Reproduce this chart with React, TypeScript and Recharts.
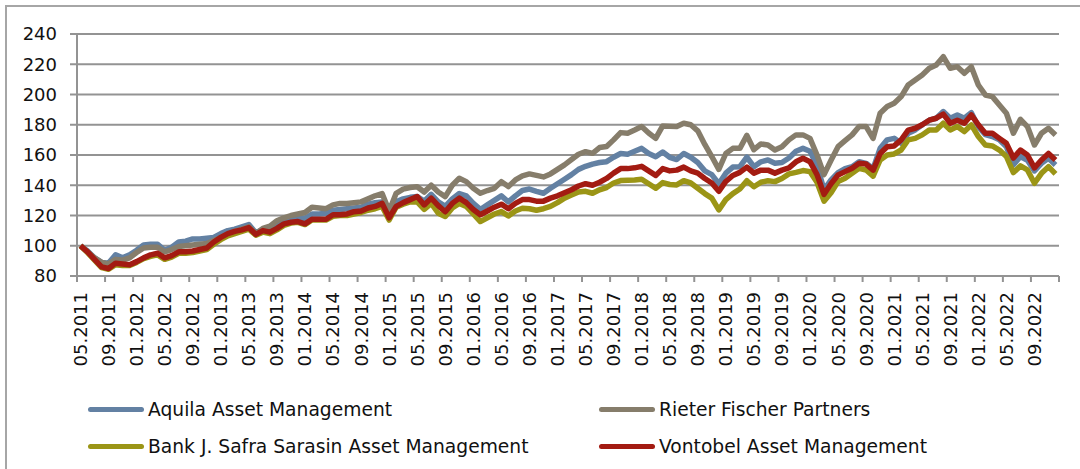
import React from 'react';
import { LineChart, Line, XAxis, YAxis, CartesianGrid } from 'recharts';

// monthly index values, 05.2011 .. 12.2022 (140 months)
const aquila = [
  100, 96.5, 92, 89, 88.5, 94, 92, 94, 97, 100.5,
  101, 101, 97, 99, 102.5, 103, 104.5, 104.5, 105, 105.5,
  108, 110, 111, 112.5, 114, 108.5, 111, 111, 113.5, 116,
  117.5, 118.5, 118, 121, 121, 121.5, 123.5, 124, 124.5, 125,
  125.5, 127.5, 128.5, 129, 119.5, 129, 131, 132, 132.5, 129.5,
  134, 129, 126, 131, 134.5, 133, 128, 124, 127, 130,
  133, 129, 133, 136.5, 137.5, 136, 134.7, 138, 141, 144,
  147, 150.5, 152.5, 154, 155, 155.6, 158.5, 161, 160.5, 162.5,
  164.4, 161, 158.9, 162, 158.5, 157, 161, 158.5, 155, 149.5,
  147, 141, 148, 152, 152.3, 158.5, 152.3, 155.5, 156.7, 154.5,
  155, 158, 162.5, 164.4, 162.5, 153, 137, 143.5, 148.4, 151,
  152.3, 155.6, 154.5, 151, 164.4, 170, 171, 167.7, 174.4, 176.6,
  180, 183, 184.3, 188.7, 184.3, 186.5, 184.3, 188, 178.8, 173.5,
  172.2, 170, 165.5, 153.5, 159, 156.5, 149.5, 154.5, 157.8, 153.4,
];

const rieter = [
  100, 96, 92, 89, 88, 91, 90.5, 92, 95.5, 98.5,
  99, 99, 96, 97.5, 99.5, 100, 100.5, 101, 101.5, 103.5,
  105.5, 107.5, 109.5, 111, 112.5, 108, 111.5, 113, 116.5, 118.5,
  120, 121, 122, 125.5, 125, 124.5, 127, 128, 128, 128.5,
  129, 131, 133, 134.5, 123, 134.7, 137.4, 138.5, 139, 135.5,
  140, 135.5, 132.5, 140, 144.6, 142.4, 138, 134.7, 136.5, 138,
  142.4, 139.1, 143.5, 146.2, 147.5, 146.5, 145.5, 147.5, 150.5, 153.5,
  157, 160.5, 162.2, 161.1, 164.9, 165.6, 170, 174.8, 174.4, 176.5,
  178.8, 174.5, 171, 179.2, 179, 178.8, 181, 180, 176, 167,
  159, 150.5, 161, 164.4, 164.4, 173, 163.5, 167.3, 166.6, 163.3,
  165.5, 170, 173.3, 173.3, 171, 160, 147, 156.5, 165.5, 169.5,
  173.3, 178.8, 178.8, 171, 187.6, 192, 194.2, 198.6, 206.3, 209.6,
  212.9, 217.3, 219.5, 225, 217.3, 218.4, 214, 218.4, 206.3, 199.7,
  198.6, 193.1, 187.6, 174.4, 183.6, 178.8, 166.6, 174.4, 177.7, 173.3,
];

const safra = [
  100, 95.5, 90.5, 85.5, 84.5, 87.5, 87, 87, 89, 91.5,
  93, 94, 91, 92.5, 95, 95, 95.5, 96.5, 97.5, 101,
  104, 106.5, 108, 109.5, 111, 107, 109, 108, 110.5, 113.5,
  115, 115.5, 114, 117, 117, 117, 119.5, 120, 120, 121,
  122, 123.5, 124.5, 126, 117, 125.5, 127.5, 129, 129, 124,
  128, 121.5, 119.3, 125, 128, 126, 121, 116, 118.5, 121,
  122.6, 119.7, 123, 124.8, 124.5, 123.5, 124.5, 126, 128.5, 131.5,
  133.5, 135.5, 136, 134.7, 137, 138.5, 141.5, 143.1, 143.3, 143.5,
  144, 141, 138, 141.8, 140.5, 140.2, 143, 141.5, 138, 134.5,
  131.5, 123.7, 130.5, 134.5, 137.5, 143, 139, 142, 143, 142.4,
  144.5, 147.5, 148.5, 149.7, 149, 142, 129.5, 135, 142.4, 144.6,
  147.9, 151.2, 150.1, 146, 156.7, 160, 160.7, 163.3, 170, 171,
  173.3, 176.6, 176.6, 181, 176.6, 178.8, 175.5, 179.9, 172.2, 166.6,
  166, 163.3, 159, 148.4, 152.8, 150.1, 141.3, 147.9, 152.3, 147.5,
];

const vontobel = [
  100, 96, 91, 86, 85, 88.5, 88, 87.5, 89.5, 92,
  94, 95, 92, 93.5, 96, 96, 96.5, 97.5, 98.5, 102.5,
  105.5, 108, 109.5, 110.5, 112, 107.5, 110, 109, 111.5, 114.5,
  115.5, 116, 114.5, 117.5, 117.5, 117.5, 120.5, 120.5, 121, 122.5,
  123, 125, 126, 128, 118.5, 126, 128.5, 130.5, 132.5, 127,
  131.5, 126.5, 122.5, 128, 131.5, 128.5, 124, 120.5, 123, 125.5,
  127.5, 124.5, 128, 130.5, 130.5, 129.5, 129.5, 131.5, 133, 135,
  137, 139.5, 141, 140, 142, 144.5, 148, 151, 151, 151.5,
  152.5, 149.5, 146.5, 151, 149.5, 150, 152, 149.5, 148, 144.5,
  141.5, 136, 142.5, 146.5, 148.5, 152, 148, 150, 150, 148,
  150, 151.5, 155.5, 157.8, 155.6, 147, 134, 141, 146.8, 149,
  151.2, 154.5, 154, 150, 161, 165.5, 166, 170, 176.5, 177.7,
  180, 183, 184.3, 187, 181, 183, 181, 186.5, 180, 174.4,
  174.4, 171, 167.7, 158, 163.3, 160, 151.5, 156.7, 161, 156.7,
];

const tickLabels = [
  '05.2011', '09.2011', '01.2012', '05.2012', '09.2012', '01.2013', '05.2013',
  '09.2013', '01.2014', '05.2014', '09.2014', '01.2015', '05.2015', '09.2015',
  '01.2016', '05.2016', '09.2016', '01.2017', '05.2017', '09.2017', '01.2018',
  '05.2018', '09.2018', '01.2019', '05.2019', '09.2019', '01.2020', '05.2020',
  '09.2020', '01.2021', '05.2021', '09.2021', '01.2022', '05.2022', '09.2022',
];

const yTicks = [80, 100, 120, 140, 160, 180, 200, 220, 240];

const series = [
  { key: 'aquila', name: 'Aquila Asset Management', color: '#6381a3' },
  { key: 'rieter', name: 'Rieter Fischer Partners', color: '#867d6b' },
  { key: 'safra', name: 'Bank J. Safra Sarasin Asset Management', color: '#9b9516' },
  { key: 'vontobel', name: 'Vontobel Asset Management', color: '#a31b12' },
];

const N = aquila.length;
const data = aquila.map((v, i) => ({
  i,
  aquila: v,
  rieter: rieter[i],
  safra: safra[i],
  vontobel: vontobel[i],
}));

// tick marks sit between months, one every 4 months
const boundaryTicks = Array.from({ length: tickLabels.length + 1 }, (_, k) => k * 4 - 0.5);

const CHART_W = 1080;
const Y_W = 77;
const RIGHT = 21;
const HALF_CAT = (CHART_W - Y_W - RIGHT) / N / 2;
const FONT = '"DejaVu Sans", Verdana, sans-serif';
const GRID = '#939393';

function MonthTick(props: any) {
  const { x, y, payload } = props;
  const k = Math.round((payload.value + 0.5) / 4);
  const label = tickLabels[k];
  if (!label) return <g />;
  const cx = x + HALF_CAT;
  return (
    <text
      x={cx}
      y={y + 8}
      dy="0.36em"
      transform={`rotate(-90 ${cx} ${y + 8})`}
      textAnchor="end"
      fontSize={18}
      fontFamily={FONT}
      fill="#111"
    >
      {label}
    </text>
  );
}

const legendRows = [
  [series[0], series[1]],
  [series[2], series[3]],
];

export default function App() {
  return (
    <div
      style={{
        position: 'absolute',
        left: 0,
        top: 0,
        width: 1080,
        height: 469,
        overflow: 'hidden',
        background: '#fff',
        fontFamily: FONT,
      }}
    >
      <div
        style={{
          position: 'absolute',
          left: 5,
          top: 5,
          width: 1200,
          height: 700,
          border: '2px solid #a6a6a6',
        }}
      />
      <div style={{ position: 'absolute', left: 0, top: 0 }}>
        <LineChart
          width={CHART_W}
          height={400}
          data={data}
          margin={{ top: 34, right: RIGHT, bottom: 0, left: 0 }}
        >
          <CartesianGrid vertical={false} stroke={GRID} strokeWidth={2} />
          <XAxis
            dataKey="i"
            type="number"
            domain={[-0.5, N - 0.5]}
            ticks={boundaryTicks}
            interval={0}
            height={124}
            tick={<MonthTick />}
            tickSize={6}
            stroke={GRID}
            strokeWidth={2}
            allowDataOverflow
          />
          <YAxis
            width={Y_W}
            domain={[80, 240]}
            ticks={yTicks}
            interval={0}
            tickSize={7}
            tickMargin={13}
            stroke={GRID}
            strokeWidth={2}
            tick={{ fontSize: 18, fontFamily: FONT, fill: '#111' }}
          />
          {series.map((s) => (
            <Line
              key={s.key}
              dataKey={s.key}
              name={s.name}
              type="linear"
              stroke={s.color}
              strokeWidth={5.5}
              dot={false}
              activeDot={false}
              strokeLinejoin="round"
              isAnimationActive={false}
            />
          ))}
        </LineChart>
      </div>
      {legendRows.map((row, r) => (
        <div key={r}>
          {row.map((s, c) => (
            <div
              key={s.key}
              style={{
                position: 'absolute',
                left: c === 0 ? 88 : 599,
                top: r === 0 ? 397 : 434,
                height: 24,
                display: 'flex',
                alignItems: 'center',
                fontSize: 18.7,
                color: '#111',
                whiteSpace: 'nowrap',
              }}
            >
              <span
                style={{
                  display: 'inline-block',
                  width: 56,
                  height: 5,
                  borderRadius: 3,
                  background: s.color,
                  marginRight: 4,
                }}
              />
              {s.name}
            </div>
          ))}
        </div>
      ))}
    </div>
  );
}
